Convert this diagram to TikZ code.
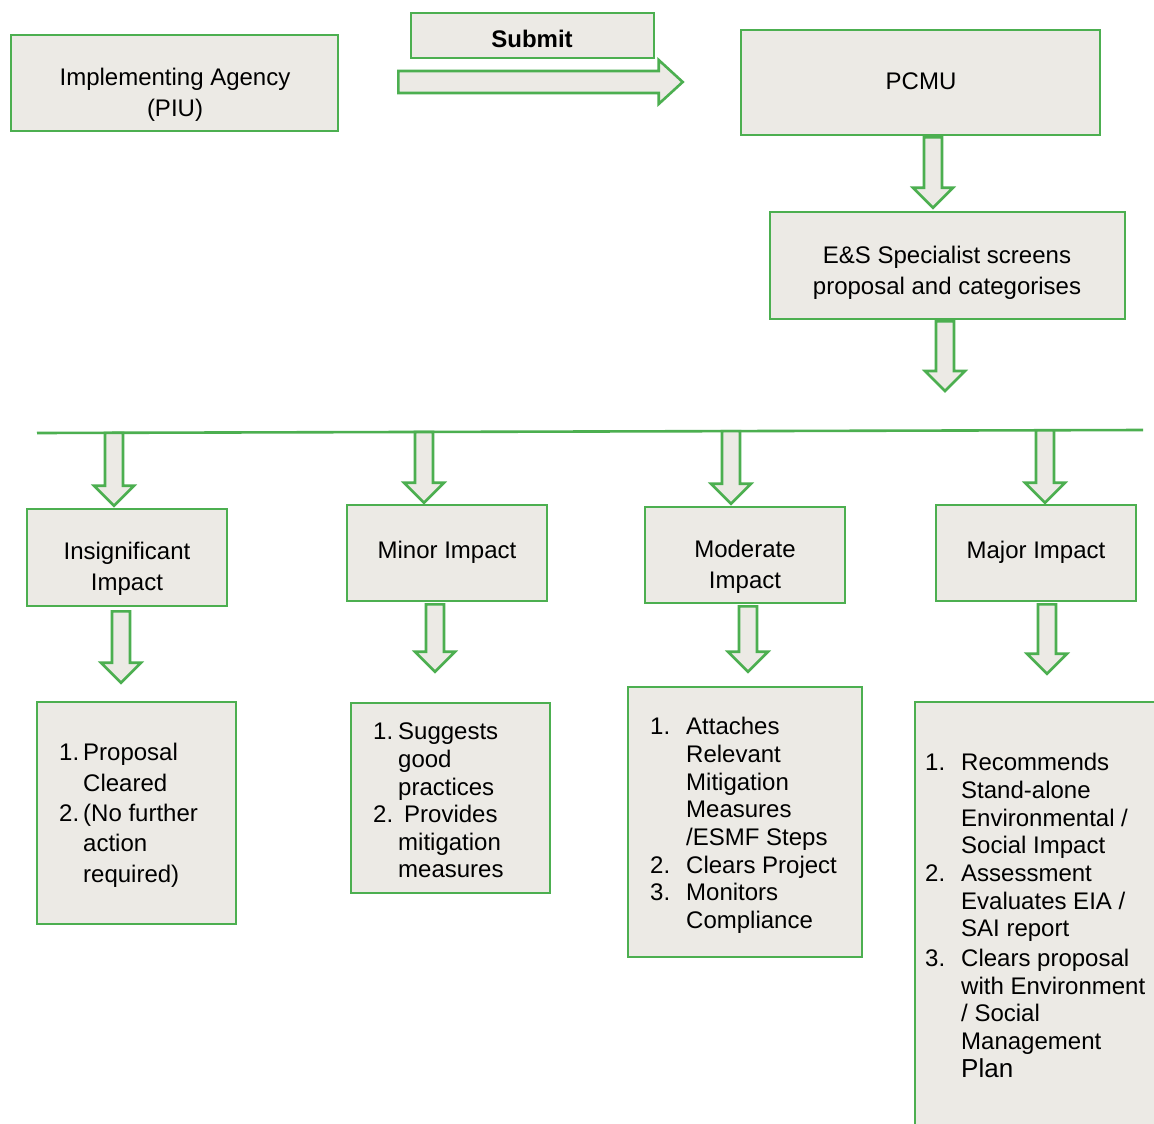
\documentclass[tikz,border=0pt]{standalone}
\usepackage{fontspec}
\setmainfont{Liberation Sans}
\usetikzlibrary{calc}
\definecolor{gr}{RGB}{76,175,80}
\definecolor{bx}{RGB}{236,234,229}
\tikzset{
  box/.style={draw=gr, fill=bx, line width=2.6pt, inner sep=0pt, rectangle},
  txt/.style={font=\fontsize{24}{31}\selectfont, align=center, inner sep=0pt, text=black},
  lst/.style={inner sep=0pt, anchor=north west, text=black},
  blk/.style={draw=gr, fill=bx, line width=2.6pt, line join=miter},
  conn/.style={draw=gr, line width=2.6pt}
}
\newcommand\vblock[2]{%
  \draw[blk] let \p1=#1, \p2=#2 in
    (\x1-9pt,\y1) -- (\x1-9pt,\y2+20pt) -- (\x1-20pt,\y2+20pt) -- (\x1,\y2)
    -- (\x1+20pt,\y2+20pt) -- (\x1+9pt,\y2+20pt) -- (\x1+9pt,\y1) -- cycle;}
\newcommand\hblock[2]{%
  \draw[blk] let \p1=#1, \p2=#2 in
    (\x1,\y1+11pt) -- (\x2-24pt,\y1+11pt) -- (\x2-24pt,\y1+22pt) -- (\x2,\y1)
    -- (\x2-24pt,\y1-22pt) -- (\x2-24pt,\y1-11pt) -- (\x1,\y1-11pt) -- cycle;}
\begin{document}
\begin{tikzpicture}[x=1pt,y=-1pt]
\useasboundingbox (0,0) rectangle (1154,1124);
\clip (0,0) rectangle (1154,1124);
\fill[white] (0,0) rectangle (1154,1124);

% boxes
\node[box, minimum width=327pt, minimum height=96pt] (ia) at (174.5,83) {};
\node[txt] (iat) at (175,95) {Implementing Agency\\(PIU)};
\node[box, minimum width=243pt, minimum height=45pt] (sub) at (532.5,35.5) {};
\node[txt, font=\fontsize{24}{31}\selectfont\bfseries] (subt) at (532,39) {Submit};
\node[box, minimum width=359pt, minimum height=105pt] (pcmu) at (920.5,82.5) {};
\node[txt] (pcmut) at (921,81) {PCMU};
\node[box, minimum width=355pt, minimum height=107pt] (es) at (947.5,265.5) {};
\node[txt] (est) at (947,272.5) {E\&S Specialist screens\\proposal and categorises};

\node[box, minimum width=200pt, minimum height=97pt] (ins) at (127,557.5) {};
\node[txt] (inst) at (127,569) {Insignificant\\Impact};
\node[box, minimum width=200pt, minimum height=96pt] (min) at (447,553) {};
\node[txt] (mint) at (447,552) {Minor Impact};
\node[box, minimum width=200pt, minimum height=96pt] (mod) at (745,555) {};
\node[txt] (modt) at (745,566.5) {Moderate\\Impact};
\node[box, minimum width=200pt, minimum height=96pt] (maj) at (1036,553) {};
\node[txt] (majt) at (1036,552) {Major Impact};

\node[box, minimum width=199pt, minimum height=222pt] (l1) at (136.5,813) {};
\node[box, minimum width=199pt, minimum height=190pt] (l2) at (450.5,798) {};
\node[box, minimum width=234pt, minimum height=270pt] (l3) at (745,822) {};
\node[box, minimum width=250pt, minimum height=433pt] (l4) at (1040,918.5) {};

\node[lst, font=\fontsize{24}{30.3}\selectfont] (t1) at (59,739.4) {%
\begin{tabular}[t]{@{}l@{}l@{}}
\makebox[24pt][l]{1.} & Proposal\\
 & Cleared\\
2. & (No further\\
 & action\\
 & required)
\end{tabular}};
\node[lst, font=\fontsize{24}{27.6}\selectfont] (t2) at (373,720.3) {%
\begin{tabular}[t]{@{}l@{}l@{}}
\makebox[25pt][l]{1.} & Suggests\\
 & good\\
 & practices\\
2. & \hspace{6pt}Provides\\
 & mitigation\\
 & measures
\end{tabular}};
\node[lst, font=\fontsize{24}{27.7}\selectfont] (t3) at (650,715.2) {%
\begin{tabular}[t]{@{}l@{}l@{}}
\makebox[36pt][l]{1.} & Attaches\\
 & Relevant\\
 & Mitigation\\
 & Measures\\
 & /ESMF Steps\\
2. & Clears Project\\
3. & Monitors\\
 & Compliance
\end{tabular}};
\node[lst, font=\fontsize{24}{27.7}\selectfont] (t4) at (925,751.1) {%
\begin{tabular}[t]{@{}l@{}l@{}}
\makebox[36pt][l]{1.} & Recommends\\
 & Stand-alone\\
 & Environmental /\\
 & Social Impact\\
2. & Assessment\\
 & Evaluates EIA /\\
 & SAI report\\[2pt]
3. & Clears proposal\\
 & with Environment\\
 & / Social\\
 & Management\\
 & {\fontsize{26}{28}\selectfont Plan}
\end{tabular}};

% submit arrow
\hblock{([xshift=59pt,yshift=1pt]ia.east)}{([xshift=-57pt]pcmu.west)}

% vertical arrows
\vblock{([xshift=12.5pt,yshift=-1pt]pcmu.south)}{([yshift=3pt]es.north)}
\coordinate (split) at (945,391);
\vblock{([xshift=-2.5pt,yshift=-1pt]es.south)}{(split)}

% horizontal distribution line
\coordinate (hl) at (37,433);
\coordinate (hr) at (1143,430);
\draw[conn] (hl) -- (hr);
\coordinate (p1) at (114,432.8);
\coordinate (p2) at (424,432);
\coordinate (p3) at (731,431.1);
\coordinate (p4) at (1045,430.3);
\vblock{(p1)}{([yshift=2pt]ins.north)}
\vblock{(p2)}{([yshift=1pt]min.north)}
\vblock{(p3)}{([yshift=2pt]mod.north)}
\vblock{(p4)}{([yshift=1pt]maj.north)}

% impact to actions
\vblock{([xshift=-6pt,yshift=-4pt]ins.south)}{([yshift=18pt]l1.north)}
\vblock{([xshift=-12pt,yshift=-2pt]min.south)}{([yshift=30pt]l2.north)}
\vblock{([xshift=3pt,yshift=-2pt]mod.south)}{([yshift=14pt]l3.north)}
\vblock{([xshift=11pt,yshift=-2pt]maj.south)}{([yshift=27pt]l4.north)}
\end{tikzpicture}
\end{document}
